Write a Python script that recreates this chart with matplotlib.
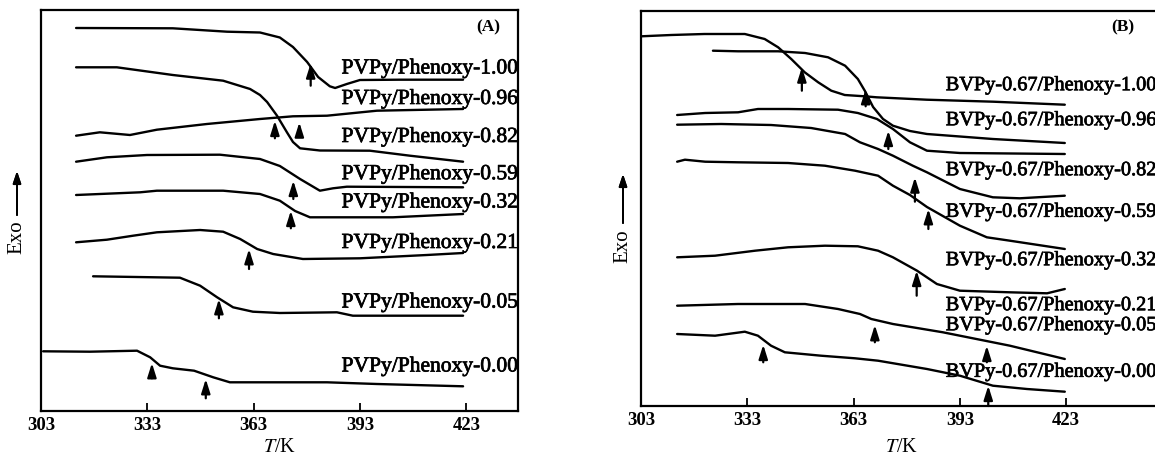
import numpy as np
import matplotlib.pyplot as plt
import matplotlib.patheffects as pe

plt.rcParams['font.family'] = ['Liberation Serif', 'DejaVu Serif']
plt.rcParams['mathtext.fontset'] = 'stix'

# ---------------- panel (A): PVPy/Phenoxy ----------------
a100_T = [312.9, 340.2, 355.5, 364.8, 370.4, 374.1, 378.1, 381.2, 384.5, 386.0, 389.3, 393.0, 404.3, 422.1]
a100_q = [383.0, 382.7, 379.3, 378.5, 373.5, 364.0, 349.0, 334.0, 324.7, 323.0, 327.0, 331.0, 331.3, 331.3]
a096_T = [312.9, 324.4, 340.2, 354.4, 362.0, 364.8, 366.8, 369.6, 372.4, 374.1, 376.1, 381.7, 395.8, 407.1, 422.1]
a096_q = [343.7, 343.7, 336.0, 330.3, 322.0, 316.0, 309.0, 295.3, 278.7, 269.0, 262.7, 260.5, 260.3, 255.3, 249.3]
a082_T = [312.9, 319.6, 328.1, 335.7, 349.8, 364.8, 374.1, 383.7, 397.8, 422.1]
a082_q = [275.3, 278.7, 276.0, 281.3, 287.0, 292.0, 294.7, 295.3, 300.3, 302.0]
a059_T = [312.9, 321.6, 332.9, 353.5, 364.8, 370.4, 376.1, 381.7, 385.4, 389.3, 422.1]
a059_q = [249.3, 253.7, 256.0, 256.3, 252.0, 245.0, 232.0, 220.3, 222.7, 224.3, 223.7]
a032_T = [312.9, 331.0, 335.7, 354.4, 364.8, 370.4, 374.7, 378.9, 402.3, 422.1]
a032_q = [216.0, 218.7, 220.3, 220.3, 217.0, 210.3, 200.0, 193.7, 193.7, 197.0]
a021_T = [312.9, 321.6, 329.0, 335.7, 347.9, 354.4, 359.2, 364.0, 368.5, 376.9, 393.0, 411.9, 422.1]
a021_q = [168.7, 171.3, 175.3, 178.7, 181.0, 179.3, 172.0, 162.0, 157.0, 152.0, 152.7, 156.0, 158.0]
a005_T = [317.7, 342.2, 347.9, 352.7, 357.2, 362.8, 370.4, 386.5, 391.0, 422.1]
a005_q = [134.7, 133.3, 125.3, 113.7, 103.7, 99.3, 98.0, 98.7, 95.3, 95.3]
a000_T = [303.6, 316.8, 330.1, 333.8, 336.6, 340.2, 346.2, 351.6, 356.3, 370.4, 383.7, 397.8, 422.1]
a000_q = [59.7, 59.3, 60.3, 53.7, 45.3, 42.7, 40.3, 33.7, 28.7, 28.7, 28.7, 27.0, 24.7]

a_curves = [(a100_T, a100_q), (a096_T, a096_q), (a082_T, a082_q), (a059_T, a059_q),
            (a032_T, a032_q), (a021_T, a021_q), (a005_T, a005_q), (a000_T, a000_q)]
a_names = ['PVPy/Phenoxy-1.00', 'PVPy/Phenoxy-0.96', 'PVPy/Phenoxy-0.82', 'PVPy/Phenoxy-0.59',
           'PVPy/Phenoxy-0.32', 'PVPy/Phenoxy-0.21', 'PVPy/Phenoxy-0.05', 'PVPy/Phenoxy-0.00']
a_name_q = [342.0, 311.5, 273.5, 236.3, 208.0, 167.5, 108.0, 44.0]
# Tg arrows: temperature, tip, tail
a_tg = [379.1, 369.0, 375.9, 374.2, 373.5, 361.7, 353.2, 334.3, 349.5]
a_tip = [347.7, 290.3, 288.7, 230.3, 200.3, 162.0, 112.0, 48.0, 32.0]
a_tail = [325.3, 272.7, 274.7, 212.0, 182.7, 142.0, 92.7, 32.7, 12.7]

# ---------------- panel (B): BVPy-0.67/Phenoxy ----------------
b100_T = [303.1, 311.5, 320.9, 332.3, 337.9, 341.7, 345.4, 349.2, 353.0, 356.7, 360.5, 366.1, 369.5, 383.6, 402.4, 422.6]
b100_q = [369.7, 371.0, 372.0, 372.0, 367.0, 358.7, 347.0, 333.7, 323.7, 315.3, 311.0, 309.7, 308.7, 306.3, 304.3, 301.3]
b096_T = [323.3, 330.4, 341.7, 349.3, 355.8, 360.6, 364.2, 366.2, 368.5, 371.3, 374.1, 378.9, 383.7, 402.3, 422.6]
b096_q = [355.3, 354.7, 354.7, 353.0, 348.7, 340.3, 327.0, 315.0, 299.0, 287.0, 280.3, 275.0, 272.0, 267.0, 263.0]
b082_T = [313.2, 321.1, 330.4, 336.0, 344.5, 358.6, 364.2, 369.6, 374.1, 378.9, 383.7, 393.0, 422.6]
b082_q = [291.0, 293.0, 293.7, 297.0, 297.0, 296.3, 293.0, 287.0, 277.0, 263.7, 255.3, 253.0, 252.0]
b059_T = [313.2, 325.6, 339.7, 351.0, 360.6, 364.8, 369.9, 374.1, 379.7, 383.7, 393.0, 402.3, 409.9, 422.6]
b059_q = [281.3, 282.0, 281.0, 278.0, 272.0, 263.7, 257.0, 250.3, 240.3, 233.7, 217.0, 208.7, 207.7, 210.3]
b032_T = [313.2, 315.4, 321.1, 330.4, 344.5, 354.9, 363.4, 369.9, 374.1, 378.9, 383.7, 393.0, 400.6, 407.1, 422.6]
b032_q = [244.3, 246.3, 244.3, 243.7, 243.0, 240.3, 235.3, 230.3, 220.3, 211.0, 199.0, 180.3, 168.7, 165.3, 157.0]
b021_T = [313.2, 323.9, 335.2, 344.5, 354.9, 364.2, 369.9, 374.1, 380.9, 386.5, 393.0, 407.1, 417.6, 422.6]
b021_q = [148.7, 150.3, 155.3, 158.7, 160.3, 159.7, 155.3, 148.7, 135.3, 122.0, 115.3, 113.7, 112.7, 117.0]
b005_T = [313.2, 330.4, 349.3, 358.6, 364.8, 368.0, 374.1, 388.2, 402.3, 407.1, 422.6]
b005_q = [100.3, 102.0, 102.0, 97.0, 92.0, 87.0, 82.0, 73.7, 63.7, 60.3, 47.0]
b000_T = [313.2, 323.9, 332.3, 336.0, 339.7, 343.6, 353.8, 363.4, 369.9, 383.7, 393.0, 402.3, 411.9, 422.6]
b000_q = [72.0, 70.3, 74.3, 70.3, 60.3, 53.7, 50.3, 47.7, 45.3, 37.0, 30.3, 20.3, 17.0, 14.3]

b_curves = [(b100_T, b100_q), (b096_T, b096_q), (b082_T, b082_q), (b059_T, b059_q),
            (b032_T, b032_q), (b021_T, b021_q), (b005_T, b005_q), (b000_T, b000_q)]
b_names = ['BVPy-0.67/Phenoxy-1.00', 'BVPy-0.67/Phenoxy-0.96', 'BVPy-0.67/Phenoxy-0.82',
           'BVPy-0.67/Phenoxy-0.59', 'BVPy-0.67/Phenoxy-0.32', 'BVPy-0.67/Phenoxy-0.21',
           'BVPy-0.67/Phenoxy-0.05', 'BVPy-0.67/Phenoxy-0.00']
b_name_q = [320.3, 285.3, 235.3, 193.7, 145.3, 100.3, 80.3, 33.7]
b_tg = [348.4, 366.4, 372.8, 380.3, 384.1, 380.8, 369.0, 400.6, 337.5, 401.0]
b_tip = [338.7, 317.0, 275.3, 228.7, 197.0, 135.3, 81.0, 60.3, 61.3, 20.3]
b_tail = [315.3, 299.7, 257.0, 204.3, 177.0, 110.3, 63.7, 43.7, 43.7, 0.0]

ticks = [303, 333, 363, 393, 423]

fig = plt.figure(figsize=(11.55, 4.6), dpi=100)
axA = fig.add_axes([41 / 1155, 48 / 460, 477 / 1155, 401 / 460])
axB = fig.add_axes([641 / 1155, 53 / 460, 534 / 1155, 395.5 / 460])

ink = [pe.withStroke(linewidth=0.5, foreground='k')]


def panel(ax, curves, names, name_q, name_T, tg, tip, tail, xmax, ymax, fs, tag, tag_xy, xlab_xy):
    for T, q in curves:
        ax.plot(T, q, color='k', lw=1.7, solid_capstyle='round')
    for nm, q in zip(names, name_q):
        ax.text(name_T, q, nm, fontsize=fs, va='center', ha='left', clip_on=False,
                path_effects=ink)
    for t, a, b in zip(tg, tip, tail):
        ax.annotate('', xy=(t, a), xytext=(t, b),
                    arrowprops=dict(arrowstyle='-|>,head_width=0.22,head_length=0.7',
                                    color='k', lw=1.6, mutation_scale=12, shrinkA=0, shrinkB=0))
    ax.set_xlim(303, xmax)
    ax.set_ylim(0, ymax)
    ax.set_xticks(ticks)
    ax.set_xticklabels([str(t) for t in ticks], fontweight='bold')
    ax.set_yticks([])
    ax.tick_params(axis='x', direction='in', length=6, width=1.3, labelsize=13.5, pad=3.5)
    for s in ax.spines.values():
        s.set_linewidth(1.6)
    ax.set_xlabel(r'$T$/K', fontsize=14.5)
    ax.xaxis.set_label_coords(*xlab_xy)
    ax.text(tag_xy[0], tag_xy[1], tag, fontsize=12.5, fontweight='bold',
            ha='center', va='center')


panel(axA, a_curves, a_names, a_name_q, 387.8, a_tg, a_tip, a_tail, 437.6, 401, 15.5,
      '(A)', (429.2, 385), (0.5, -0.065))
panel(axB, b_curves, b_names, b_name_q, 389.0, b_tg, b_tip, b_tail, 453.7, 395.5, 14.6,
      '(B)', (439.1, 380), (0.487, -0.078))

# "Exo" with an upward arrow on each panel
for x, yc, y0, y1 in [(17, 237, 216, 172), (623, 246, 224, 175)]:
    fig.text(x / 1155, 1 - yc / 460, 'Exo', rotation=90, fontsize=15,
             ha='center', va='center')
    fig.add_artist(plt.annotate('', xy=(x / 1155, 1 - y1 / 460), xytext=(x / 1155, 1 - y0 / 460),
                                xycoords='figure fraction', textcoords='figure fraction',
                                arrowprops=dict(arrowstyle='-|>,head_width=0.2,head_length=0.6',
                                                color='k', lw=1.4, mutation_scale=12,
                                                shrinkA=0, shrinkB=0)))

fig.savefig('out.png', dpi=100)
